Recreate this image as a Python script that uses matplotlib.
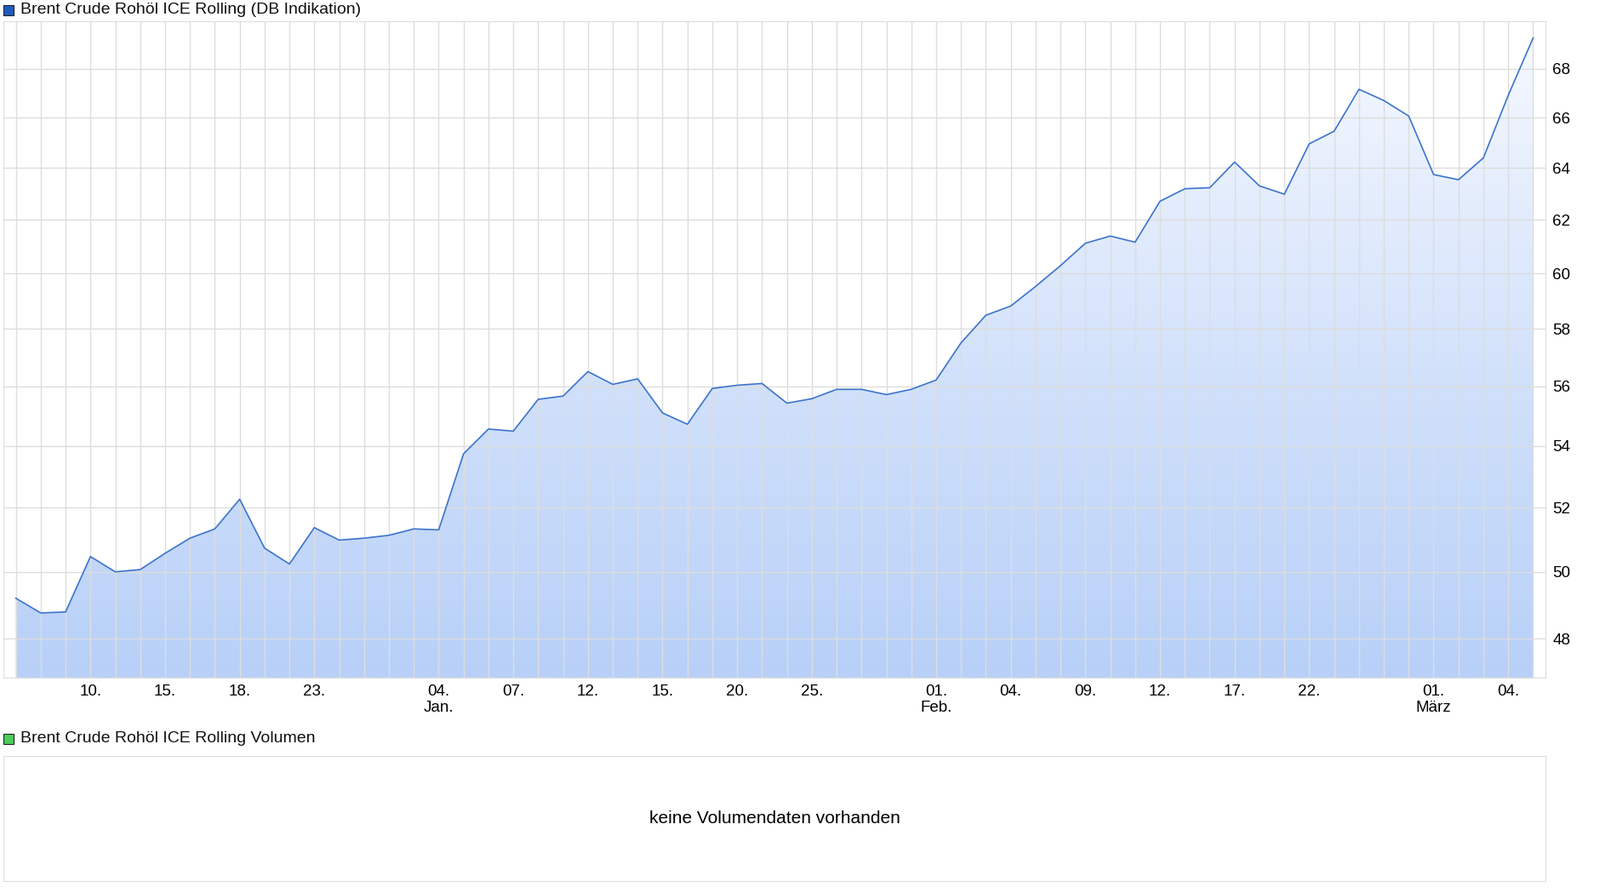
import numpy as np
import matplotlib.pyplot as plt
from matplotlib.patches import Rectangle

plt.rcParams["font.family"] = ["Liberation Sans", "DejaVu Sans"]

# Brent Schlusskurse, ein Punkt je Handelstag (07.12.2020 - 05.03.2021)
prices = [49.2, 48.76, 48.79, 50.47, 50.0, 50.07, 50.57, 51.04, 51.33, 52.27,
          50.73, 50.24, 51.37, 50.98, 51.04, 51.13, 51.33, 51.3, 53.74, 54.56,
          54.49, 55.56, 55.67, 56.51, 56.07, 56.26, 55.1, 54.72, 55.93, 56.04,
          56.1, 55.43, 55.58, 55.9, 55.9, 55.72, 55.9, 56.22, 57.51, 58.49,
          58.82, 59.53, 60.29, 61.12, 61.39, 61.16, 62.71, 63.19, 63.23, 64.23,
          63.3, 62.98, 64.95, 65.45, 67.15, 66.69, 66.06, 63.74, 63.54, 64.39,
          66.9, 69.29]
tick_idx = [3, 6, 9, 12, 17, 20, 23, 26, 29, 32, 37, 40, 43, 46, 49, 52, 57, 60]
tick_labels = ["10.", "15.", "18.", "23.", "04.\nJan.", "07.", "12.", "15.", "20.",
               "25.", "01.\nFeb.", "04.", "09.", "12.", "17.", "22.", "01.\nMärz", "04."]
y_ticks = [48, 50, 52, 54, 56, 58, 60, 62, 64, 66, 68]

W, H = 1880, 1049
fig = plt.figure(figsize=(W / 100, H / 100), dpi=100)
ax = fig.add_axes([4 / W, 1 - 796 / H, 1812 / W, 771 / H])

x = np.arange(len(prices))
ymin, ymax = 46.87, 70.0
ax.set_yscale("log")
ax.set_xlim(-0.5, len(prices) - 0.5)
ax.set_ylim(ymin, ymax)

# Verlaufsfüllung unter der Linie
grad = np.linspace(0, 1, 256).reshape(-1, 1)
top = np.array([246, 249, 255]) / 255
bot = np.array([184, 208, 248]) / 255
img = top + (bot - top) * grad[..., None]
poly = ax.fill_between(x, prices, ymin, color="none")
im = ax.imshow(img, extent=[-0.5, len(prices) - 0.5, ymin, max(prices)],
               aspect="auto", origin="upper", zorder=1)
path = poly.get_paths()[0]
im.set_clip_path(path, transform=ax.transData)
ax.plot(x, prices, color="#3c74cc", lw=1.2, zorder=3)

ax.set_xticks(x, minor=True)
ax.set_xticks(tick_idx)
ax.set_xticklabels(tick_labels, fontsize=13.5, linespacing=1.1)
ax.set_yticks(y_ticks)
ax.set_yticklabels([str(v) for v in y_ticks], fontsize=13.5)
ax.yaxis.set_minor_locator(plt.NullLocator())
ax.yaxis.tick_right()
ax.tick_params(axis="both", which="both", length=0, pad=6)
ax.grid(True, which="both", axis="x", color="#dddddd", lw=1, zorder=2)
ax.grid(True, which="major", axis="y", color="#dddddd", lw=1, zorder=2)
ax.set_axisbelow(False)
for s in ax.spines.values():
    s.set_color("#dddddd")

fig.patches.append(Rectangle((4 / W, 1 - 18 / H), 12 / W, 12 / H, transform=fig.transFigure,
                             facecolor="#1f5bbf", edgecolor="#222222", lw=0.8))
fig.text(24 / W, 1 - 12 / H, "Brent Crude Rohöl ICE Rolling (DB Indikation)",
         fontsize=14, va="center", color="#111111")

vol = fig.add_axes([4 / W, 1 - 1035 / H, 1812 / W, 147 / H])
vol.set_xticks([])
vol.set_yticks([])
for s in vol.spines.values():
    s.set_color("#dddddd")
vol.text(0.5, 0.5, "keine Volumendaten vorhanden", ha="center", va="center",
         fontsize=15, transform=vol.transAxes)

fig.patches.append(Rectangle((4 / W, 1 - 874 / H), 12 / W, 12 / H, transform=fig.transFigure,
                             facecolor="#4ccc5a", edgecolor="#222222", lw=0.8))
fig.text(24 / W, 1 - 868 / H, "Brent Crude Rohöl ICE Rolling Volumen",
         fontsize=14, va="center", color="#111111")

fig.savefig("out.png", dpi=100)
